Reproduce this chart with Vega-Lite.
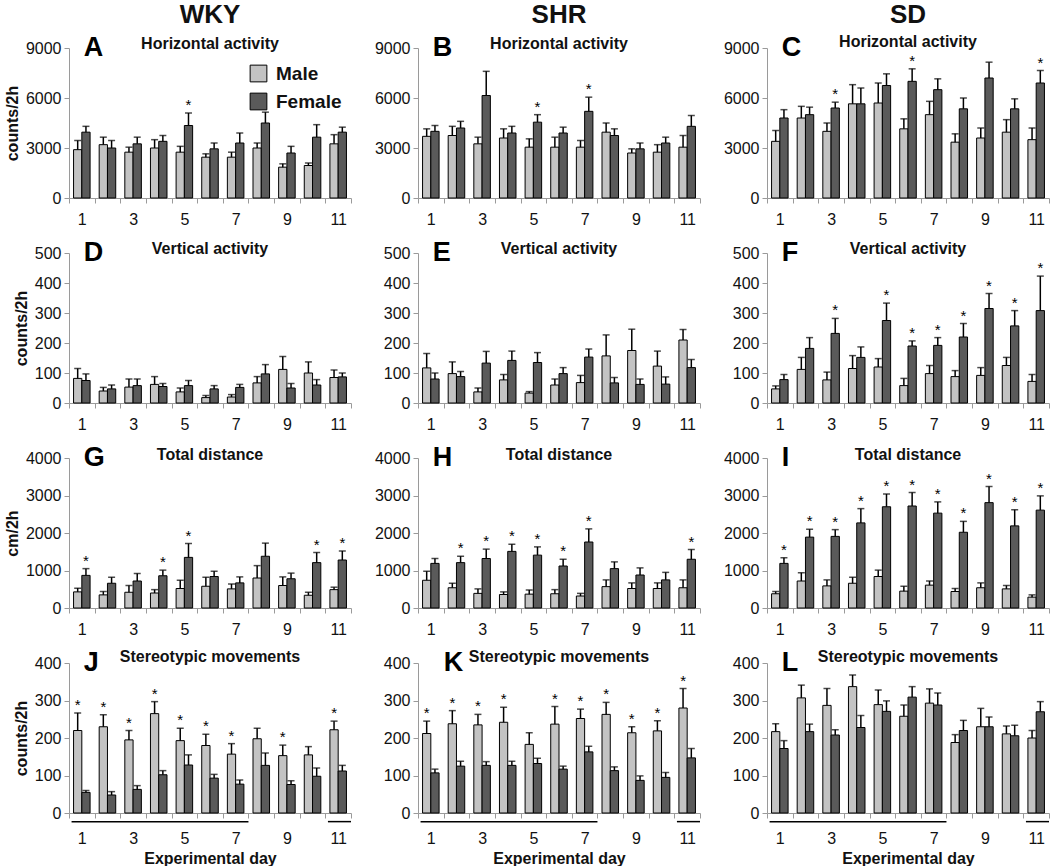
{
"$schema": "https://vega.github.io/schema/vega-lite/v6.json",
"padding": {"left": 4, "top": 2, "right": 0, "bottom": 0},
"background": "white",
"columns": 3,
"bounds": "flush",
"spacing": {"row": 55, "column": 67},
"resolve": {"scale": {"fill": "independent"}},
"config": {
 "font": "Liberation Sans",
 "view": {"stroke": null},
 "axis": {"domainColor": "#9a9a9a", "tickColor": "#9a9a9a", "labelColor": "#111", "labelFontSize": 16, "titleFontSize": 16, "titleFontWeight": "bold", "titleColor": "#111", "grid": false, "tickSize": 5, "labelOverlap": false},
 "axisX": {"tickBand": "extent", "labelAngle": 0, "labelPadding": 8, "labelExpr": "datum.value % 2 == 1 ? datum.label : ''", "titlePadding": 4},
 "axisY": {"labelPadding": 3, "format": "d", "titlePadding": 5, "labelOverlap": false, "tickCount": 12},
 "title": {"fontSize": 26, "fontWeight": "bold", "color": "#111", "offset": 6, "anchor": "middle"}
},
"concat": [
{"title": "WKY", "width": 282, "height": 150,
 "data": {"values": [
 {"d":1,"s":"Male","v":2900,"hi":3450},{"d":1,"s":"Female","v":3950,"hi":4300},
 {"d":2,"s":"Male","v":3200,"hi":3650},{"d":2,"s":"Female","v":3000,"hi":3450},
 {"d":3,"s":"Male","v":2750,"hi":3050},{"d":3,"s":"Female","v":3250,"hi":3650},
 {"d":4,"s":"Male","v":3000,"hi":3500},{"d":4,"s":"Female","v":3400,"hi":3750},
 {"d":5,"s":"Male","v":2750,"hi":3100},{"d":5,"s":"Female","v":4350,"hi":5100,"st":1},
 {"d":6,"s":"Male","v":2450,"hi":2650},{"d":6,"s":"Female","v":2950,"hi":3300},
 {"d":7,"s":"Male","v":2450,"hi":2750},{"d":7,"s":"Female","v":3300,"hi":3900},
 {"d":8,"s":"Male","v":3000,"hi":3300},{"d":8,"s":"Female","v":4500,"hi":5150},
 {"d":9,"s":"Male","v":1850,"hi":2050},{"d":9,"s":"Female","v":2700,"hi":3100},
 {"d":10,"s":"Male","v":1950,"hi":2100},{"d":10,"s":"Female","v":3650,"hi":4400},
 {"d":11,"s":"Male","v":3250,"hi":3800},{"d":11,"s":"Female","v":3950,"hi":4250}]},
 "layer": [
  {"mark": {"type": "bar", "stroke": "#000", "strokeWidth": 1},
   "encoding": {
    "x": {"field": "d", "type": "ordinal", "scale": {"domain": [1,2,3,4,5,6,7,8,9,10,11], "paddingInner": 0, "paddingOuter": 0}, "axis": {"title": null}},
    "xOffset": {"field": "s", "type": "nominal", "scale": {"domain": ["Male","Female"], "paddingInner": 0, "paddingOuter": 0.55}},
    "y": {"field": "v", "type": "quantitative", "scale": {"domain": [0,9000], "nice": false}, "axis": {"values": [0,3000,6000,9000], "tickCount": 12, "title": "counts/2h", "labelOverlap": false}},
    "fill": {"field": "s", "type": "nominal", "scale": {"domain": ["Male","Female"], "range": ["#c3c3c3","#5a5a5a"]},
      "legend": {"orient": "none", "legendX": 180, "legendY": 16, "title": null, "symbolType": "square", "symbolSize": 280, "symbolStrokeColor": "#000", "symbolStrokeWidth": 1, "labelFontSize": 19, "labelFontWeight": "bold", "labelColor": "#111", "rowPadding": 7, "labelOffset": 8}}}},
  {"mark": {"type": "rule", "stroke": "#000", "strokeWidth": 1.5}, "encoding": {"x": {"field": "d", "type": "ordinal"}, "xOffset": {"field": "s", "type": "nominal"}, "y": {"field": "v", "type": "quantitative"}, "y2": {"field": "hi"}}},
  {"mark": {"type": "tick", "orient": "horizontal", "size": 7, "thickness": 1.5, "color": "#000"}, "encoding": {"x": {"field": "d", "type": "ordinal"}, "xOffset": {"field": "s", "type": "nominal"}, "y": {"field": "hi", "type": "quantitative"}}},
  {"transform": [{"filter": "datum.st == 1"}], "mark": {"type": "text", "text": "*", "fontSize": 15, "dy": -3, "baseline": "alphabetic", "color": "#000"}, "encoding": {"x": {"field": "d", "type": "ordinal"}, "xOffset": {"field": "s", "type": "nominal"}, "y": {"field": "hi", "type": "quantitative"}}},
  {"data": {"values": [{"t": "Horizontal activity"}]}, "mark": {"type": "text", "fontSize": 16, "fontWeight": "bold", "baseline": "middle", "dy": -4, "color": "#111"}, "encoding": {"x": {"datum": 6, "type": "ordinal"}, "y": {"datum": 9000, "type": "quantitative"}, "text": {"field": "t"}}},
  {"data": {"values": [{"t": "A"}]}, "mark": {"type": "text", "fontSize": 27, "fontWeight": "bold", "align": "left", "baseline": "middle", "dx": 2, "color": "#000"}, "encoding": {"x": {"datum": 1, "type": "ordinal"}, "y": {"datum": 9000, "type": "quantitative"}, "text": {"field": "t"}}}
 ]},
{"title": "SHR", "width": 282, "height": 150,
 "data": {"values": [
 {"d":1,"s":"Male","v":3700,"hi":4150},{"d":1,"s":"Female","v":4000,"hi":4350},
 {"d":2,"s":"Male","v":3750,"hi":4300},{"d":2,"s":"Female","v":4200,"hi":4600},
 {"d":3,"s":"Male","v":3250,"hi":3650},{"d":3,"s":"Female","v":6150,"hi":7600},
 {"d":4,"s":"Male","v":3600,"hi":4150},{"d":4,"s":"Female","v":3900,"hi":4300},
 {"d":5,"s":"Male","v":3050,"hi":3550},{"d":5,"s":"Female","v":4550,"hi":5000,"st":1},
 {"d":6,"s":"Male","v":3050,"hi":3650},{"d":6,"s":"Female","v":3900,"hi":4250},
 {"d":7,"s":"Male","v":3050,"hi":3450},{"d":7,"s":"Female","v":5200,"hi":6050,"st":1},
 {"d":8,"s":"Male","v":3950,"hi":4500},{"d":8,"s":"Female","v":3750,"hi":4150},
 {"d":9,"s":"Male","v":2700,"hi":2950},{"d":9,"s":"Female","v":2950,"hi":3300},
 {"d":10,"s":"Male","v":2750,"hi":3200},{"d":10,"s":"Female","v":3300,"hi":3650},
 {"d":11,"s":"Male","v":3050,"hi":3750},{"d":11,"s":"Female","v":4300,"hi":4950}]},
 "layer": [
  {"mark": {"type": "bar", "stroke": "#000", "strokeWidth": 1},
   "encoding": {
    "x": {"field": "d", "type": "ordinal", "scale": {"domain": [1,2,3,4,5,6,7,8,9,10,11], "paddingInner": 0, "paddingOuter": 0}, "axis": {"title": null}},
    "xOffset": {"field": "s", "type": "nominal", "scale": {"domain": ["Male","Female"], "paddingInner": 0, "paddingOuter": 0.55}},
    "y": {"field": "v", "type": "quantitative", "scale": {"domain": [0,9000], "nice": false}, "axis": {"values": [0,3000,6000,9000], "tickCount": 12, "title": null, "labelOverlap": false}},
    "fill": {"field": "s", "type": "nominal", "scale": {"domain": ["Male","Female"], "range": ["#c3c3c3","#5a5a5a"]}, "legend": null}}},
  {"mark": {"type": "rule", "stroke": "#000", "strokeWidth": 1.5}, "encoding": {"x": {"field": "d", "type": "ordinal"}, "xOffset": {"field": "s", "type": "nominal"}, "y": {"field": "v", "type": "quantitative"}, "y2": {"field": "hi"}}},
  {"mark": {"type": "tick", "orient": "horizontal", "size": 7, "thickness": 1.5, "color": "#000"}, "encoding": {"x": {"field": "d", "type": "ordinal"}, "xOffset": {"field": "s", "type": "nominal"}, "y": {"field": "hi", "type": "quantitative"}}},
  {"transform": [{"filter": "datum.st == 1"}], "mark": {"type": "text", "text": "*", "fontSize": 15, "dy": -3, "baseline": "alphabetic", "color": "#000"}, "encoding": {"x": {"field": "d", "type": "ordinal"}, "xOffset": {"field": "s", "type": "nominal"}, "y": {"field": "hi", "type": "quantitative"}}},
  {"data": {"values": [{"t": "Horizontal activity"}]}, "mark": {"type": "text", "fontSize": 16, "fontWeight": "bold", "baseline": "middle", "dy": -4, "color": "#111"}, "encoding": {"x": {"datum": 6, "type": "ordinal"}, "y": {"datum": 9000, "type": "quantitative"}, "text": {"field": "t"}}},
  {"data": {"values": [{"t": "B"}]}, "mark": {"type": "text", "fontSize": 27, "fontWeight": "bold", "align": "left", "baseline": "middle", "dx": 2, "color": "#000"}, "encoding": {"x": {"datum": 1, "type": "ordinal"}, "y": {"datum": 9000, "type": "quantitative"}, "text": {"field": "t"}}}
 ]},
{"title": "SD", "width": 282, "height": 150,
 "data": {"values": [
 {"d":1,"s":"Male","v":3400,"hi":4050},{"d":1,"s":"Female","v":4800,"hi":5300},
 {"d":2,"s":"Male","v":4800,"hi":5500},{"d":2,"s":"Female","v":5000,"hi":5450},
 {"d":3,"s":"Male","v":4000,"hi":4500},{"d":3,"s":"Female","v":5400,"hi":5750,"st":1},
 {"d":4,"s":"Male","v":5650,"hi":6800},{"d":4,"s":"Female","v":5650,"hi":6600},
 {"d":5,"s":"Male","v":5700,"hi":6900},{"d":5,"s":"Female","v":6750,"hi":7450},
 {"d":6,"s":"Male","v":4150,"hi":4750},{"d":6,"s":"Female","v":7000,"hi":7750,"st":1},
 {"d":7,"s":"Male","v":5000,"hi":5800},{"d":7,"s":"Female","v":6500,"hi":7150},
 {"d":8,"s":"Male","v":3350,"hi":3850},{"d":8,"s":"Female","v":5350,"hi":6000},
 {"d":9,"s":"Male","v":3600,"hi":4200},{"d":9,"s":"Female","v":7200,"hi":8150},
 {"d":10,"s":"Male","v":3950,"hi":4700},{"d":10,"s":"Female","v":5350,"hi":5950},
 {"d":11,"s":"Male","v":3500,"hi":4200},{"d":11,"s":"Female","v":6900,"hi":7650,"st":1}]},
 "layer": [
  {"mark": {"type": "bar", "stroke": "#000", "strokeWidth": 1},
   "encoding": {
    "x": {"field": "d", "type": "ordinal", "scale": {"domain": [1,2,3,4,5,6,7,8,9,10,11], "paddingInner": 0, "paddingOuter": 0}, "axis": {"title": null}},
    "xOffset": {"field": "s", "type": "nominal", "scale": {"domain": ["Male","Female"], "paddingInner": 0, "paddingOuter": 0.55}},
    "y": {"field": "v", "type": "quantitative", "scale": {"domain": [0,9000], "nice": false}, "axis": {"values": [0,3000,6000,9000], "tickCount": 12, "title": null, "labelOverlap": false}},
    "fill": {"field": "s", "type": "nominal", "scale": {"domain": ["Male","Female"], "range": ["#c3c3c3","#5a5a5a"]}, "legend": null}}},
  {"mark": {"type": "rule", "stroke": "#000", "strokeWidth": 1.5}, "encoding": {"x": {"field": "d", "type": "ordinal"}, "xOffset": {"field": "s", "type": "nominal"}, "y": {"field": "v", "type": "quantitative"}, "y2": {"field": "hi"}}},
  {"mark": {"type": "tick", "orient": "horizontal", "size": 7, "thickness": 1.5, "color": "#000"}, "encoding": {"x": {"field": "d", "type": "ordinal"}, "xOffset": {"field": "s", "type": "nominal"}, "y": {"field": "hi", "type": "quantitative"}}},
  {"transform": [{"filter": "datum.st == 1"}], "mark": {"type": "text", "text": "*", "fontSize": 15, "dy": -3, "baseline": "alphabetic", "color": "#000"}, "encoding": {"x": {"field": "d", "type": "ordinal"}, "xOffset": {"field": "s", "type": "nominal"}, "y": {"field": "hi", "type": "quantitative"}}},
  {"data": {"values": [{"t": "Horizontal activity"}]}, "mark": {"type": "text", "fontSize": 16, "fontWeight": "bold", "baseline": "middle", "dy": -6, "color": "#111"}, "encoding": {"x": {"datum": 6, "type": "ordinal"}, "y": {"datum": 9000, "type": "quantitative"}, "text": {"field": "t"}}},
  {"data": {"values": [{"t": "C"}]}, "mark": {"type": "text", "fontSize": 27, "fontWeight": "bold", "align": "left", "baseline": "middle", "dx": 2, "color": "#000"}, "encoding": {"x": {"datum": 1, "type": "ordinal"}, "y": {"datum": 9000, "type": "quantitative"}, "text": {"field": "t"}}}
 ]},
{"width": 282, "height": 150,
 "data": {"values": [
 {"d":1,"s":"Male","v":82,"hi":115},{"d":1,"s":"Female","v":75,"hi":97},
 {"d":2,"s":"Male","v":40,"hi":52},{"d":2,"s":"Female","v":47,"hi":60},
 {"d":3,"s":"Male","v":53,"hi":80},{"d":3,"s":"Female","v":58,"hi":80},
 {"d":4,"s":"Male","v":62,"hi":88},{"d":4,"s":"Female","v":55,"hi":65},
 {"d":5,"s":"Male","v":37,"hi":50},{"d":5,"s":"Female","v":58,"hi":75},
 {"d":6,"s":"Male","v":18,"hi":25},{"d":6,"s":"Female","v":47,"hi":58},
 {"d":7,"s":"Male","v":20,"hi":28},{"d":7,"s":"Female","v":52,"hi":62},
 {"d":8,"s":"Male","v":67,"hi":88},{"d":8,"s":"Female","v":97,"hi":128},
 {"d":9,"s":"Male","v":112,"hi":155},{"d":9,"s":"Female","v":50,"hi":65},
 {"d":10,"s":"Male","v":100,"hi":137},{"d":10,"s":"Female","v":60,"hi":78},
 {"d":11,"s":"Male","v":85,"hi":110},{"d":11,"s":"Female","v":87,"hi":100}]},
 "layer": [
  {"mark": {"type": "bar", "stroke": "#000", "strokeWidth": 1},
   "encoding": {
    "x": {"field": "d", "type": "ordinal", "scale": {"domain": [1,2,3,4,5,6,7,8,9,10,11], "paddingInner": 0, "paddingOuter": 0}, "axis": {"title": null}},
    "xOffset": {"field": "s", "type": "nominal", "scale": {"domain": ["Male","Female"], "paddingInner": 0, "paddingOuter": 0.55}},
    "y": {"field": "v", "type": "quantitative", "scale": {"domain": [0,500], "nice": false}, "axis": {"values": [0,100,200,300,400,500], "tickCount": 12, "title": "counts/2h", "labelOverlap": false}},
    "fill": {"field": "s", "type": "nominal", "scale": {"domain": ["Male","Female"], "range": ["#c3c3c3","#5a5a5a"]}, "legend": null}}},
  {"mark": {"type": "rule", "stroke": "#000", "strokeWidth": 1.5}, "encoding": {"x": {"field": "d", "type": "ordinal"}, "xOffset": {"field": "s", "type": "nominal"}, "y": {"field": "v", "type": "quantitative"}, "y2": {"field": "hi"}}},
  {"mark": {"type": "tick", "orient": "horizontal", "size": 7, "thickness": 1.5, "color": "#000"}, "encoding": {"x": {"field": "d", "type": "ordinal"}, "xOffset": {"field": "s", "type": "nominal"}, "y": {"field": "hi", "type": "quantitative"}}},
  {"data": {"values": [{"t": "Vertical activity"}]}, "mark": {"type": "text", "fontSize": 16, "fontWeight": "bold", "baseline": "middle", "dy": -4, "color": "#111"}, "encoding": {"x": {"datum": 6, "type": "ordinal"}, "y": {"datum": 500, "type": "quantitative"}, "text": {"field": "t"}}},
  {"data": {"values": [{"t": "D"}]}, "mark": {"type": "text", "fontSize": 27, "fontWeight": "bold", "align": "left", "baseline": "middle", "dx": 2, "color": "#000"}, "encoding": {"x": {"datum": 1, "type": "ordinal"}, "y": {"datum": 500, "type": "quantitative"}, "text": {"field": "t"}}}
 ]},
{"width": 282, "height": 150,
 "data": {"values": [
 {"d":1,"s":"Male","v":117,"hi":165},{"d":1,"s":"Female","v":80,"hi":100},
 {"d":2,"s":"Male","v":98,"hi":137},{"d":2,"s":"Female","v":88,"hi":105},
 {"d":3,"s":"Male","v":37,"hi":50},{"d":3,"s":"Female","v":133,"hi":172},
 {"d":4,"s":"Male","v":77,"hi":95},{"d":4,"s":"Female","v":142,"hi":173},
 {"d":5,"s":"Male","v":33,"hi":38},{"d":5,"s":"Female","v":135,"hi":168},
 {"d":6,"s":"Male","v":60,"hi":80},{"d":6,"s":"Female","v":98,"hi":118},
 {"d":7,"s":"Male","v":68,"hi":92},{"d":7,"s":"Female","v":153,"hi":180},
 {"d":8,"s":"Male","v":157,"hi":227},{"d":8,"s":"Female","v":67,"hi":85},
 {"d":9,"s":"Male","v":175,"hi":246},{"d":9,"s":"Female","v":62,"hi":80},
 {"d":10,"s":"Male","v":123,"hi":173},{"d":10,"s":"Female","v":63,"hi":87},
 {"d":11,"s":"Male","v":210,"hi":245},{"d":11,"s":"Female","v":118,"hi":145}]},
 "layer": [
  {"mark": {"type": "bar", "stroke": "#000", "strokeWidth": 1},
   "encoding": {
    "x": {"field": "d", "type": "ordinal", "scale": {"domain": [1,2,3,4,5,6,7,8,9,10,11], "paddingInner": 0, "paddingOuter": 0}, "axis": {"title": null}},
    "xOffset": {"field": "s", "type": "nominal", "scale": {"domain": ["Male","Female"], "paddingInner": 0, "paddingOuter": 0.55}},
    "y": {"field": "v", "type": "quantitative", "scale": {"domain": [0,500], "nice": false}, "axis": {"values": [0,100,200,300,400,500], "tickCount": 12, "title": null, "labelOverlap": false}},
    "fill": {"field": "s", "type": "nominal", "scale": {"domain": ["Male","Female"], "range": ["#c3c3c3","#5a5a5a"]}, "legend": null}}},
  {"mark": {"type": "rule", "stroke": "#000", "strokeWidth": 1.5}, "encoding": {"x": {"field": "d", "type": "ordinal"}, "xOffset": {"field": "s", "type": "nominal"}, "y": {"field": "v", "type": "quantitative"}, "y2": {"field": "hi"}}},
  {"mark": {"type": "tick", "orient": "horizontal", "size": 7, "thickness": 1.5, "color": "#000"}, "encoding": {"x": {"field": "d", "type": "ordinal"}, "xOffset": {"field": "s", "type": "nominal"}, "y": {"field": "hi", "type": "quantitative"}}},
  {"data": {"values": [{"t": "Vertical activity"}]}, "mark": {"type": "text", "fontSize": 16, "fontWeight": "bold", "baseline": "middle", "dy": -4, "color": "#111"}, "encoding": {"x": {"datum": 6, "type": "ordinal"}, "y": {"datum": 500, "type": "quantitative"}, "text": {"field": "t"}}},
  {"data": {"values": [{"t": "E"}]}, "mark": {"type": "text", "fontSize": 27, "fontWeight": "bold", "align": "left", "baseline": "middle", "dx": 2, "color": "#000"}, "encoding": {"x": {"datum": 1, "type": "ordinal"}, "y": {"datum": 500, "type": "quantitative"}, "text": {"field": "t"}}}
 ]},
{"width": 282, "height": 150,
 "data": {"values": [
 {"d":1,"s":"Male","v":47,"hi":57},{"d":1,"s":"Female","v":78,"hi":95},
 {"d":2,"s":"Male","v":112,"hi":152},{"d":2,"s":"Female","v":182,"hi":218},
 {"d":3,"s":"Male","v":77,"hi":103},{"d":3,"s":"Female","v":232,"hi":282,"st":1},
 {"d":4,"s":"Male","v":115,"hi":158},{"d":4,"s":"Female","v":152,"hi":187},
 {"d":5,"s":"Male","v":120,"hi":148},{"d":5,"s":"Female","v":275,"hi":333,"st":1},
 {"d":6,"s":"Male","v":58,"hi":82},{"d":6,"s":"Female","v":190,"hi":207,"st":1},
 {"d":7,"s":"Male","v":98,"hi":125},{"d":7,"s":"Female","v":192,"hi":218,"st":1},
 {"d":8,"s":"Male","v":88,"hi":108},{"d":8,"s":"Female","v":220,"hi":265,"st":1},
 {"d":9,"s":"Male","v":92,"hi":118},{"d":9,"s":"Female","v":315,"hi":365,"st":1},
 {"d":10,"s":"Male","v":125,"hi":152},{"d":10,"s":"Female","v":257,"hi":308,"st":1},
 {"d":11,"s":"Male","v":72,"hi":95},{"d":11,"s":"Female","v":308,"hi":423,"st":1}]},
 "layer": [
  {"mark": {"type": "bar", "stroke": "#000", "strokeWidth": 1},
   "encoding": {
    "x": {"field": "d", "type": "ordinal", "scale": {"domain": [1,2,3,4,5,6,7,8,9,10,11], "paddingInner": 0, "paddingOuter": 0}, "axis": {"title": null}},
    "xOffset": {"field": "s", "type": "nominal", "scale": {"domain": ["Male","Female"], "paddingInner": 0, "paddingOuter": 0.55}},
    "y": {"field": "v", "type": "quantitative", "scale": {"domain": [0,500], "nice": false}, "axis": {"values": [0,100,200,300,400,500], "tickCount": 12, "title": null, "labelOverlap": false}},
    "fill": {"field": "s", "type": "nominal", "scale": {"domain": ["Male","Female"], "range": ["#c3c3c3","#5a5a5a"]}, "legend": null}}},
  {"mark": {"type": "rule", "stroke": "#000", "strokeWidth": 1.5}, "encoding": {"x": {"field": "d", "type": "ordinal"}, "xOffset": {"field": "s", "type": "nominal"}, "y": {"field": "v", "type": "quantitative"}, "y2": {"field": "hi"}}},
  {"mark": {"type": "tick", "orient": "horizontal", "size": 7, "thickness": 1.5, "color": "#000"}, "encoding": {"x": {"field": "d", "type": "ordinal"}, "xOffset": {"field": "s", "type": "nominal"}, "y": {"field": "hi", "type": "quantitative"}}},
  {"transform": [{"filter": "datum.st == 1"}], "mark": {"type": "text", "text": "*", "fontSize": 15, "dy": -3, "baseline": "alphabetic", "color": "#000"}, "encoding": {"x": {"field": "d", "type": "ordinal"}, "xOffset": {"field": "s", "type": "nominal"}, "y": {"field": "hi", "type": "quantitative"}}},
  {"data": {"values": [{"t": "Vertical activity"}]}, "mark": {"type": "text", "fontSize": 16, "fontWeight": "bold", "baseline": "middle", "dy": -4, "color": "#111"}, "encoding": {"x": {"datum": 6, "type": "ordinal"}, "y": {"datum": 500, "type": "quantitative"}, "text": {"field": "t"}}},
  {"data": {"values": [{"t": "F"}]}, "mark": {"type": "text", "fontSize": 27, "fontWeight": "bold", "align": "left", "baseline": "middle", "dx": 2, "color": "#000"}, "encoding": {"x": {"datum": 1, "type": "ordinal"}, "y": {"datum": 500, "type": "quantitative"}, "text": {"field": "t"}}}
 ]},
{"width": 282, "height": 150,
 "data": {"values": [
 {"d":1,"s":"Male","v":430,"hi":530},{"d":1,"s":"Female","v":870,"hi":1050,"st":1},
 {"d":2,"s":"Male","v":350,"hi":440},{"d":2,"s":"Female","v":660,"hi":820},
 {"d":3,"s":"Male","v":420,"hi":600},{"d":3,"s":"Female","v":720,"hi":920},
 {"d":4,"s":"Male","v":400,"hi":490},{"d":4,"s":"Female","v":860,"hi":1010,"st":1},
 {"d":5,"s":"Male","v":520,"hi":740},{"d":5,"s":"Female","v":1350,"hi":1720,"st":1},
 {"d":6,"s":"Male","v":580,"hi":820},{"d":6,"s":"Female","v":840,"hi":980},
 {"d":7,"s":"Male","v":510,"hi":640},{"d":7,"s":"Female","v":670,"hi":830},
 {"d":8,"s":"Male","v":800,"hi":1130},{"d":8,"s":"Female","v":1380,"hi":1730},
 {"d":9,"s":"Male","v":600,"hi":830},{"d":9,"s":"Female","v":780,"hi":930},
 {"d":10,"s":"Male","v":340,"hi":420},{"d":10,"s":"Female","v":1210,"hi":1480,"st":1},
 {"d":11,"s":"Male","v":490,"hi":555},{"d":11,"s":"Female","v":1280,"hi":1520,"st":1}]},
 "layer": [
  {"mark": {"type": "bar", "stroke": "#000", "strokeWidth": 1},
   "encoding": {
    "x": {"field": "d", "type": "ordinal", "scale": {"domain": [1,2,3,4,5,6,7,8,9,10,11], "paddingInner": 0, "paddingOuter": 0}, "axis": {"title": null}},
    "xOffset": {"field": "s", "type": "nominal", "scale": {"domain": ["Male","Female"], "paddingInner": 0, "paddingOuter": 0.55}},
    "y": {"field": "v", "type": "quantitative", "scale": {"domain": [0,4000], "nice": false}, "axis": {"values": [0,1000,2000,3000,4000], "tickCount": 12, "title": "cm/2h", "labelOverlap": false}},
    "fill": {"field": "s", "type": "nominal", "scale": {"domain": ["Male","Female"], "range": ["#c3c3c3","#5a5a5a"]}, "legend": null}}},
  {"mark": {"type": "rule", "stroke": "#000", "strokeWidth": 1.5}, "encoding": {"x": {"field": "d", "type": "ordinal"}, "xOffset": {"field": "s", "type": "nominal"}, "y": {"field": "v", "type": "quantitative"}, "y2": {"field": "hi"}}},
  {"mark": {"type": "tick", "orient": "horizontal", "size": 7, "thickness": 1.5, "color": "#000"}, "encoding": {"x": {"field": "d", "type": "ordinal"}, "xOffset": {"field": "s", "type": "nominal"}, "y": {"field": "hi", "type": "quantitative"}}},
  {"transform": [{"filter": "datum.st == 1"}], "mark": {"type": "text", "text": "*", "fontSize": 15, "dy": -3, "baseline": "alphabetic", "color": "#000"}, "encoding": {"x": {"field": "d", "type": "ordinal"}, "xOffset": {"field": "s", "type": "nominal"}, "y": {"field": "hi", "type": "quantitative"}}},
  {"data": {"values": [{"t": "Total distance"}]}, "mark": {"type": "text", "fontSize": 16, "fontWeight": "bold", "baseline": "middle", "dy": -3, "color": "#111"}, "encoding": {"x": {"datum": 6, "type": "ordinal"}, "y": {"datum": 4000, "type": "quantitative"}, "text": {"field": "t"}}},
  {"data": {"values": [{"t": "G"}]}, "mark": {"type": "text", "fontSize": 27, "fontWeight": "bold", "align": "left", "baseline": "middle", "dx": 2, "color": "#000"}, "encoding": {"x": {"datum": 1, "type": "ordinal"}, "y": {"datum": 4000, "type": "quantitative"}, "text": {"field": "t"}}}
 ]},
{"width": 282, "height": 150,
 "data": {"values": [
 {"d":1,"s":"Male","v":740,"hi":980},{"d":1,"s":"Female","v":1190,"hi":1320},
 {"d":2,"s":"Male","v":540,"hi":660},{"d":2,"s":"Female","v":1210,"hi":1380,"st":1},
 {"d":3,"s":"Male","v":390,"hi":510},{"d":3,"s":"Female","v":1320,"hi":1570,"st":1},
 {"d":4,"s":"Male","v":360,"hi":430},{"d":4,"s":"Female","v":1510,"hi":1700,"st":1},
 {"d":5,"s":"Male","v":370,"hi":480},{"d":5,"s":"Female","v":1410,"hi":1630,"st":1},
 {"d":6,"s":"Male","v":380,"hi":490},{"d":6,"s":"Female","v":1120,"hi":1300,"st":1},
 {"d":7,"s":"Male","v":320,"hi":390},{"d":7,"s":"Female","v":1760,"hi":2110,"st":1},
 {"d":8,"s":"Male","v":570,"hi":750},{"d":8,"s":"Female","v":1050,"hi":1230},
 {"d":9,"s":"Male","v":520,"hi":670},{"d":9,"s":"Female","v":880,"hi":1070},
 {"d":10,"s":"Male","v":520,"hi":670},{"d":10,"s":"Female","v":750,"hi":950},
 {"d":11,"s":"Male","v":540,"hi":750},{"d":11,"s":"Female","v":1300,"hi":1560,"st":1}]},
 "layer": [
  {"mark": {"type": "bar", "stroke": "#000", "strokeWidth": 1},
   "encoding": {
    "x": {"field": "d", "type": "ordinal", "scale": {"domain": [1,2,3,4,5,6,7,8,9,10,11], "paddingInner": 0, "paddingOuter": 0}, "axis": {"title": null}},
    "xOffset": {"field": "s", "type": "nominal", "scale": {"domain": ["Male","Female"], "paddingInner": 0, "paddingOuter": 0.55}},
    "y": {"field": "v", "type": "quantitative", "scale": {"domain": [0,4000], "nice": false}, "axis": {"values": [0,1000,2000,3000,4000], "tickCount": 12, "title": null, "labelOverlap": false}},
    "fill": {"field": "s", "type": "nominal", "scale": {"domain": ["Male","Female"], "range": ["#c3c3c3","#5a5a5a"]}, "legend": null}}},
  {"mark": {"type": "rule", "stroke": "#000", "strokeWidth": 1.5}, "encoding": {"x": {"field": "d", "type": "ordinal"}, "xOffset": {"field": "s", "type": "nominal"}, "y": {"field": "v", "type": "quantitative"}, "y2": {"field": "hi"}}},
  {"mark": {"type": "tick", "orient": "horizontal", "size": 7, "thickness": 1.5, "color": "#000"}, "encoding": {"x": {"field": "d", "type": "ordinal"}, "xOffset": {"field": "s", "type": "nominal"}, "y": {"field": "hi", "type": "quantitative"}}},
  {"transform": [{"filter": "datum.st == 1"}], "mark": {"type": "text", "text": "*", "fontSize": 15, "dy": -3, "baseline": "alphabetic", "color": "#000"}, "encoding": {"x": {"field": "d", "type": "ordinal"}, "xOffset": {"field": "s", "type": "nominal"}, "y": {"field": "hi", "type": "quantitative"}}},
  {"data": {"values": [{"t": "Total distance"}]}, "mark": {"type": "text", "fontSize": 16, "fontWeight": "bold", "baseline": "middle", "dy": -3, "color": "#111"}, "encoding": {"x": {"datum": 6, "type": "ordinal"}, "y": {"datum": 4000, "type": "quantitative"}, "text": {"field": "t"}}},
  {"data": {"values": [{"t": "H"}]}, "mark": {"type": "text", "fontSize": 27, "fontWeight": "bold", "align": "left", "baseline": "middle", "dx": 2, "color": "#000"}, "encoding": {"x": {"datum": 1, "type": "ordinal"}, "y": {"datum": 4000, "type": "quantitative"}, "text": {"field": "t"}}}
 ]},
{"width": 282, "height": 150,
 "data": {"values": [
 {"d":1,"s":"Male","v":380,"hi":440},{"d":1,"s":"Female","v":1190,"hi":1340,"st":1},
 {"d":2,"s":"Male","v":720,"hi":940},{"d":2,"s":"Female","v":1890,"hi":2100,"st":1},
 {"d":3,"s":"Male","v":590,"hi":750},{"d":3,"s":"Female","v":1910,"hi":2090,"st":1},
 {"d":4,"s":"Male","v":660,"hi":820},{"d":4,"s":"Female","v":2270,"hi":2650,"st":1},
 {"d":5,"s":"Male","v":840,"hi":1010},{"d":5,"s":"Female","v":2700,"hi":3040,"st":1},
 {"d":6,"s":"Male","v":450,"hi":580},{"d":6,"s":"Female","v":2720,"hi":3080,"st":1},
 {"d":7,"s":"Male","v":610,"hi":720},{"d":7,"s":"Female","v":2530,"hi":2830,"st":1},
 {"d":8,"s":"Male","v":440,"hi":520},{"d":8,"s":"Female","v":2020,"hi":2310,"st":1},
 {"d":9,"s":"Male","v":540,"hi":670},{"d":9,"s":"Female","v":2810,"hi":3240,"st":1},
 {"d":10,"s":"Male","v":510,"hi":600},{"d":10,"s":"Female","v":2190,"hi":2620,"st":1},
 {"d":11,"s":"Male","v":290,"hi":350},{"d":11,"s":"Female","v":2610,"hi":2990,"st":1}]},
 "layer": [
  {"mark": {"type": "bar", "stroke": "#000", "strokeWidth": 1},
   "encoding": {
    "x": {"field": "d", "type": "ordinal", "scale": {"domain": [1,2,3,4,5,6,7,8,9,10,11], "paddingInner": 0, "paddingOuter": 0}, "axis": {"title": null}},
    "xOffset": {"field": "s", "type": "nominal", "scale": {"domain": ["Male","Female"], "paddingInner": 0, "paddingOuter": 0.55}},
    "y": {"field": "v", "type": "quantitative", "scale": {"domain": [0,4000], "nice": false}, "axis": {"values": [0,1000,2000,3000,4000], "tickCount": 12, "title": null, "labelOverlap": false}},
    "fill": {"field": "s", "type": "nominal", "scale": {"domain": ["Male","Female"], "range": ["#c3c3c3","#5a5a5a"]}, "legend": null}}},
  {"mark": {"type": "rule", "stroke": "#000", "strokeWidth": 1.5}, "encoding": {"x": {"field": "d", "type": "ordinal"}, "xOffset": {"field": "s", "type": "nominal"}, "y": {"field": "v", "type": "quantitative"}, "y2": {"field": "hi"}}},
  {"mark": {"type": "tick", "orient": "horizontal", "size": 7, "thickness": 1.5, "color": "#000"}, "encoding": {"x": {"field": "d", "type": "ordinal"}, "xOffset": {"field": "s", "type": "nominal"}, "y": {"field": "hi", "type": "quantitative"}}},
  {"transform": [{"filter": "datum.st == 1"}], "mark": {"type": "text", "text": "*", "fontSize": 15, "dy": -3, "baseline": "alphabetic", "color": "#000"}, "encoding": {"x": {"field": "d", "type": "ordinal"}, "xOffset": {"field": "s", "type": "nominal"}, "y": {"field": "hi", "type": "quantitative"}}},
  {"data": {"values": [{"t": "Total distance"}]}, "mark": {"type": "text", "fontSize": 16, "fontWeight": "bold", "baseline": "middle", "dy": -3, "color": "#111"}, "encoding": {"x": {"datum": 6, "type": "ordinal"}, "y": {"datum": 4000, "type": "quantitative"}, "text": {"field": "t"}}},
  {"data": {"values": [{"t": "I"}]}, "mark": {"type": "text", "fontSize": 27, "fontWeight": "bold", "align": "left", "baseline": "middle", "dx": 2, "color": "#000"}, "encoding": {"x": {"datum": 1, "type": "ordinal"}, "y": {"datum": 4000, "type": "quantitative"}, "text": {"field": "t"}}}
 ]},
{"width": 282, "height": 150,
 "data": {"values": [
 {"d":1,"s":"Male","v":220,"hi":267,"st":1},{"d":1,"s":"Female","v":55,"hi":60},
 {"d":2,"s":"Male","v":230,"hi":262,"st":1},{"d":2,"s":"Female","v":48,"hi":57},
 {"d":3,"s":"Male","v":195,"hi":220,"st":1},{"d":3,"s":"Female","v":63,"hi":73},
 {"d":4,"s":"Male","v":265,"hi":297,"st":1},{"d":4,"s":"Female","v":102,"hi":113},
 {"d":5,"s":"Male","v":193,"hi":226,"st":1},{"d":5,"s":"Female","v":128,"hi":155},
 {"d":6,"s":"Male","v":180,"hi":210,"st":1},{"d":6,"s":"Female","v":93,"hi":103},
 {"d":7,"s":"Male","v":157,"hi":185,"st":1},{"d":7,"s":"Female","v":77,"hi":88},
 {"d":8,"s":"Male","v":198,"hi":226},{"d":8,"s":"Female","v":127,"hi":160},
 {"d":9,"s":"Male","v":153,"hi":181,"st":1},{"d":9,"s":"Female","v":76,"hi":86},
 {"d":10,"s":"Male","v":155,"hi":177},{"d":10,"s":"Female","v":98,"hi":120},
 {"d":11,"s":"Male","v":222,"hi":245,"st":1},{"d":11,"s":"Female","v":112,"hi":127}]},
 "layer": [
  {"mark": {"type": "bar", "stroke": "#000", "strokeWidth": 1},
   "encoding": {
    "x": {"field": "d", "type": "ordinal", "scale": {"domain": [1,2,3,4,5,6,7,8,9,10,11], "paddingInner": 0, "paddingOuter": 0}, "axis": {"title": "Experimental day", "labelPadding": 12}},
    "xOffset": {"field": "s", "type": "nominal", "scale": {"domain": ["Male","Female"], "paddingInner": 0, "paddingOuter": 0.55}},
    "y": {"field": "v", "type": "quantitative", "scale": {"domain": [0,400], "nice": false}, "axis": {"values": [0,100,200,300,400], "tickCount": 12, "title": "counts/2h", "labelOverlap": false}},
    "fill": {"field": "s", "type": "nominal", "scale": {"domain": ["Male","Female"], "range": ["#c3c3c3","#5a5a5a"]}, "legend": null}}},
  {"mark": {"type": "rule", "stroke": "#000", "strokeWidth": 1.5}, "encoding": {"x": {"field": "d", "type": "ordinal"}, "xOffset": {"field": "s", "type": "nominal"}, "y": {"field": "v", "type": "quantitative"}, "y2": {"field": "hi"}}},
  {"mark": {"type": "tick", "orient": "horizontal", "size": 7, "thickness": 1.5, "color": "#000"}, "encoding": {"x": {"field": "d", "type": "ordinal"}, "xOffset": {"field": "s", "type": "nominal"}, "y": {"field": "hi", "type": "quantitative"}}},
  {"transform": [{"filter": "datum.st == 1"}], "mark": {"type": "text", "text": "*", "fontSize": 15, "dy": -3, "baseline": "alphabetic", "color": "#000"}, "encoding": {"x": {"field": "d", "type": "ordinal"}, "xOffset": {"field": "s", "type": "nominal"}, "y": {"field": "hi", "type": "quantitative"}}},
  {"data": {"values": [{"a": 1, "b": 7}, {"a": 11, "b": 11}]}, "mark": {"type": "rule", "stroke": "#000", "strokeWidth": 1.5}, "encoding": {"x": {"field": "a", "type": "ordinal", "bandPosition": 0.1}, "x2": {"field": "b", "bandPosition": 1}, "y": {"datum": -23, "type": "quantitative"}}},
  {"data": {"values": [{"t": "Stereotypic movements"}]}, "mark": {"type": "text", "fontSize": 16, "fontWeight": "bold", "baseline": "middle", "dy": -6, "color": "#111"}, "encoding": {"x": {"datum": 6, "type": "ordinal"}, "y": {"datum": 400, "type": "quantitative"}, "text": {"field": "t"}}},
  {"data": {"values": [{"t": "J"}]}, "mark": {"type": "text", "fontSize": 27, "fontWeight": "bold", "align": "left", "baseline": "middle", "dx": 2, "color": "#000"}, "encoding": {"x": {"datum": 1, "type": "ordinal"}, "y": {"datum": 400, "type": "quantitative"}, "text": {"field": "t"}}}
 ]},
{"width": 282, "height": 150,
 "data": {"values": [
 {"d":1,"s":"Male","v":212,"hi":245,"st":1},{"d":1,"s":"Female","v":107,"hi":117},
 {"d":2,"s":"Male","v":238,"hi":273,"st":1},{"d":2,"s":"Female","v":125,"hi":138},
 {"d":3,"s":"Male","v":235,"hi":263,"st":1},{"d":3,"s":"Female","v":127,"hi":137},
 {"d":4,"s":"Male","v":242,"hi":282,"st":1},{"d":4,"s":"Female","v":127,"hi":138},
 {"d":5,"s":"Male","v":183,"hi":214},{"d":5,"s":"Female","v":132,"hi":146},
 {"d":6,"s":"Male","v":237,"hi":284,"st":1},{"d":6,"s":"Female","v":117,"hi":125},
 {"d":7,"s":"Male","v":252,"hi":277,"st":1},{"d":7,"s":"Female","v":163,"hi":178},
 {"d":8,"s":"Male","v":263,"hi":295,"st":1},{"d":8,"s":"Female","v":113,"hi":123},
 {"d":9,"s":"Male","v":214,"hi":230,"st":1},{"d":9,"s":"Female","v":87,"hi":99},
 {"d":10,"s":"Male","v":219,"hi":246,"st":1},{"d":10,"s":"Female","v":95,"hi":108},
 {"d":11,"s":"Male","v":280,"hi":332,"st":1},{"d":11,"s":"Female","v":147,"hi":172}]},
 "layer": [
  {"mark": {"type": "bar", "stroke": "#000", "strokeWidth": 1},
   "encoding": {
    "x": {"field": "d", "type": "ordinal", "scale": {"domain": [1,2,3,4,5,6,7,8,9,10,11], "paddingInner": 0, "paddingOuter": 0}, "axis": {"title": "Experimental day", "labelPadding": 12}},
    "xOffset": {"field": "s", "type": "nominal", "scale": {"domain": ["Male","Female"], "paddingInner": 0, "paddingOuter": 0.55}},
    "y": {"field": "v", "type": "quantitative", "scale": {"domain": [0,400], "nice": false}, "axis": {"values": [0,100,200,300,400], "tickCount": 12, "title": null, "labelOverlap": false}},
    "fill": {"field": "s", "type": "nominal", "scale": {"domain": ["Male","Female"], "range": ["#c3c3c3","#5a5a5a"]}, "legend": null}}},
  {"mark": {"type": "rule", "stroke": "#000", "strokeWidth": 1.5}, "encoding": {"x": {"field": "d", "type": "ordinal"}, "xOffset": {"field": "s", "type": "nominal"}, "y": {"field": "v", "type": "quantitative"}, "y2": {"field": "hi"}}},
  {"mark": {"type": "tick", "orient": "horizontal", "size": 7, "thickness": 1.5, "color": "#000"}, "encoding": {"x": {"field": "d", "type": "ordinal"}, "xOffset": {"field": "s", "type": "nominal"}, "y": {"field": "hi", "type": "quantitative"}}},
  {"transform": [{"filter": "datum.st == 1"}], "mark": {"type": "text", "text": "*", "fontSize": 15, "dy": -3, "baseline": "alphabetic", "color": "#000"}, "encoding": {"x": {"field": "d", "type": "ordinal"}, "xOffset": {"field": "s", "type": "nominal"}, "y": {"field": "hi", "type": "quantitative"}}},
  {"data": {"values": [{"a": 1, "b": 7}, {"a": 11, "b": 11}]}, "mark": {"type": "rule", "stroke": "#000", "strokeWidth": 1.5}, "encoding": {"x": {"field": "a", "type": "ordinal", "bandPosition": 0.1}, "x2": {"field": "b", "bandPosition": 1}, "y": {"datum": -23, "type": "quantitative"}}},
  {"data": {"values": [{"t": "Stereotypic movements"}]}, "mark": {"type": "text", "fontSize": 16, "fontWeight": "bold", "baseline": "middle", "dy": -6, "color": "#111"}, "encoding": {"x": {"datum": 6, "type": "ordinal"}, "y": {"datum": 400, "type": "quantitative"}, "text": {"field": "t"}}},
  {"data": {"values": [{"t": "K"}]}, "mark": {"type": "text", "fontSize": 27, "fontWeight": "bold", "align": "left", "baseline": "middle", "dx": 13, "color": "#000"}, "encoding": {"x": {"datum": 1, "type": "ordinal"}, "y": {"datum": 400, "type": "quantitative"}, "text": {"field": "t"}}}
 ]},
{"width": 282, "height": 150,
 "data": {"values": [
 {"d":1,"s":"Male","v":217,"hi":238},{"d":1,"s":"Female","v":172,"hi":193},
 {"d":2,"s":"Male","v":307,"hi":341},{"d":2,"s":"Female","v":217,"hi":237},
 {"d":3,"s":"Male","v":287,"hi":332},{"d":3,"s":"Female","v":208,"hi":222},
 {"d":4,"s":"Male","v":337,"hi":368},{"d":4,"s":"Female","v":228,"hi":260},
 {"d":5,"s":"Male","v":289,"hi":328},{"d":5,"s":"Female","v":271,"hi":299},
 {"d":6,"s":"Male","v":258,"hi":288},{"d":6,"s":"Female","v":309,"hi":337},
 {"d":7,"s":"Male","v":293,"hi":331},{"d":7,"s":"Female","v":288,"hi":320},
 {"d":8,"s":"Male","v":188,"hi":209},{"d":8,"s":"Female","v":220,"hi":247},
 {"d":9,"s":"Male","v":230,"hi":279},{"d":9,"s":"Female","v":230,"hi":256},
 {"d":10,"s":"Male","v":211,"hi":232},{"d":10,"s":"Female","v":206,"hi":234},
 {"d":11,"s":"Male","v":200,"hi":220},{"d":11,"s":"Female","v":270,"hi":297}]},
 "layer": [
  {"mark": {"type": "bar", "stroke": "#000", "strokeWidth": 1},
   "encoding": {
    "x": {"field": "d", "type": "ordinal", "scale": {"domain": [1,2,3,4,5,6,7,8,9,10,11], "paddingInner": 0, "paddingOuter": 0}, "axis": {"title": "Experimental day", "labelPadding": 12}},
    "xOffset": {"field": "s", "type": "nominal", "scale": {"domain": ["Male","Female"], "paddingInner": 0, "paddingOuter": 0.55}},
    "y": {"field": "v", "type": "quantitative", "scale": {"domain": [0,400], "nice": false}, "axis": {"values": [0,100,200,300,400], "tickCount": 12, "title": null, "labelOverlap": false}},
    "fill": {"field": "s", "type": "nominal", "scale": {"domain": ["Male","Female"], "range": ["#c3c3c3","#5a5a5a"]}, "legend": null}}},
  {"mark": {"type": "rule", "stroke": "#000", "strokeWidth": 1.5}, "encoding": {"x": {"field": "d", "type": "ordinal"}, "xOffset": {"field": "s", "type": "nominal"}, "y": {"field": "v", "type": "quantitative"}, "y2": {"field": "hi"}}},
  {"mark": {"type": "tick", "orient": "horizontal", "size": 7, "thickness": 1.5, "color": "#000"}, "encoding": {"x": {"field": "d", "type": "ordinal"}, "xOffset": {"field": "s", "type": "nominal"}, "y": {"field": "hi", "type": "quantitative"}}},
  {"data": {"values": [{"a": 1, "b": 7}, {"a": 11, "b": 11}]}, "mark": {"type": "rule", "stroke": "#000", "strokeWidth": 1.5}, "encoding": {"x": {"field": "a", "type": "ordinal", "bandPosition": 0.1}, "x2": {"field": "b", "bandPosition": 1}, "y": {"datum": -23, "type": "quantitative"}}},
  {"data": {"values": [{"t": "Stereotypic movements"}]}, "mark": {"type": "text", "fontSize": 16, "fontWeight": "bold", "baseline": "middle", "dy": -6, "color": "#111"}, "encoding": {"x": {"datum": 6, "type": "ordinal"}, "y": {"datum": 400, "type": "quantitative"}, "text": {"field": "t"}}},
  {"data": {"values": [{"t": "L"}]}, "mark": {"type": "text", "fontSize": 27, "fontWeight": "bold", "align": "left", "baseline": "middle", "dx": 2, "color": "#000"}, "encoding": {"x": {"datum": 1, "type": "ordinal"}, "y": {"datum": 400, "type": "quantitative"}, "text": {"field": "t"}}}
 ]}
]
}
